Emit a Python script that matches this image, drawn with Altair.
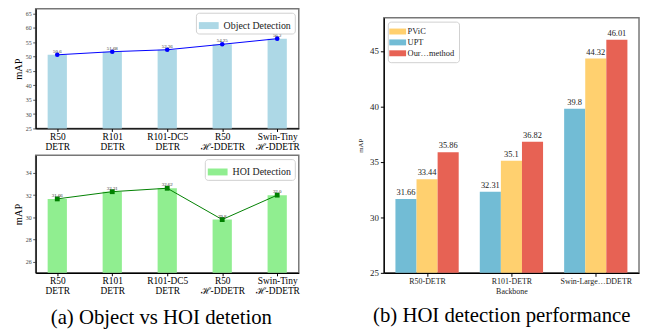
import json
import altair as alt
import pandas as pd

# ---------------- data ----------------
det_labels = [["R50", "DETR"], ["R101", "DETR"], ["R101-DC5", "DETR"],
              ["R50", "ℋ-DDETR"], ["Swin-Tiny", "ℋ-DDETR"]]
obj_values = [50.6, 51.68, 52.36, 54.25, 56.2]
hoi_values = [31.66, 32.31, 32.62, 29.8, 32.0]
obj_ticks = [25, 30, 35, 40, 45, 50, 55, 60, 65]
hoi_ticks = [26, 28, 30, 32, 34]

backbones = ["R50-DETR", "R101-DETR", "Swin-Large…DDETR"]
methods = ["UPT", "PViC", "Our…method"]
legend_order = ["PViC", "UPT", "Our…method"]
upt_values = [31.66, 32.31, 39.8]
pvic_values = [33.44, 35.1, 44.32]
our_values = [35.86, 36.82, 46.01]
perf_ticks = [25, 30, 35, 40, 45]

FONT = "Liberation Serif"
BAR_W = 0.35
RECT = "M-1,-0.35L1,-0.35L1,0.35L-1,0.35Z"
RECT_R = "M-1.42,-0.5L1.42,-0.5L1.42,0.5L-1.42,0.5Z"


def left_panel(values, name, bar_color, line_color, shape, msize, ydom, yticks, height):
    n = len(values)
    df = pd.DataFrame({"i": list(range(n)), "v": values, "s": [name] * n,
                       "lab": [str(v) for v in values]})
    margin = 0.05 * (n - 1 + BAR_W)
    xscale = alt.Scale(domain=[-BAR_W / 2 - margin, n - 1 + BAR_W / 2 + margin], nice=False, zero=False)
    yscale = alt.Scale(domain=ydom, nice=False, zero=False)
    label_js = json.dumps(det_labels, ensure_ascii=False)
    xaxis = alt.Axis(values=list(range(n)), labelExpr=f"{label_js}[datum.value]", title=None,
                     grid=False, labelFontSize=9.5, labelColor="black", labelLineHeight=10,
                     tickSize=3, labelPadding=0, domainColor="black", tickColor="black",
                     labelFlush=False, labelOverlap=False, labelFont=FONT)
    yaxis = alt.Axis(values=yticks, title="mAP", grid=False, labelFontSize=6, labelColor="#444",
                     tickSize=3, tickColor="#555", domainColor="black", titleFontSize=10.5,
                     titleFontWeight="normal", titlePadding=2, labelFont=FONT, titleFont=FONT,
                     labelOverlap=False, labelFlush=False, labelPadding=1.5, labelSeparation=0,
                     labelBound=False)
    X = alt.X("i:Q", scale=xscale, axis=xaxis)
    Y = alt.Y("v:Q", scale=yscale, axis=yaxis)
    base = alt.Chart(df)
    bars = base.transform_calculate(
        x0=f"datum.i-{BAR_W / 2}", x1=f"datum.i+{BAR_W / 2}"
    ).mark_bar().encode(
        x=alt.X("x0:Q", scale=xscale, axis=xaxis),
        x2="x1:Q",
        y=Y,
        y2=alt.datum(ydom[0]),
        color=alt.Color("s:N", scale=alt.Scale(domain=[name], range=[bar_color]),
                        legend=alt.Legend(title=None, orient="top-right", offset=4,
                                          labelFontSize=10, labelFont=FONT, labelColor="#222",
                                          symbolType=RECT, symbolSize=400, symbolStrokeWidth=0,
                                          symbolOpacity=1, labelOffset=5,
                                          padding=3, strokeColor="#d0d0d0", fillColor="white",
                                          cornerRadius=3)),
    )
    line = base.mark_line(color=line_color, strokeWidth=1).encode(x=X, y=Y)
    pts = base.mark_point(shape=shape, filled=True, size=msize, color=line_color,
                          opacity=1).encode(x=X, y=Y)
    txt = base.mark_text(fontSize=5, color="#333", dy=-1, baseline="bottom",
                         font=FONT).encode(x=X, y=Y, text="lab:N")
    return alt.layer(bars, line, pts, txt).properties(width=266, height=height)


top = left_panel(obj_values, "Object Detection", "#ADD8E6", "blue", "circle", 22,
                 [25, 66.6], obj_ticks, 121)
bottom = left_panel(hoi_values, "HOI Detection", "#90EE90", "green", "square", 24,
                    [25, 35.6], hoi_ticks, 119)

# ---------------- right panel ----------------
series = {"UPT": upt_values, "PViC": pvic_values, "Our…method": our_values}
rows = []
for gi, b in enumerate(backbones):
    for mi, m in enumerate(methods):
        rows.append({"g": gi, "b": b, "m": m, "mi": mi, "v": series[m][gi],
                     "lab": str(series[m][gi])})
rdf = pd.DataFrame(rows)
GW = 0.25
rmargin = 0.05 * (len(backbones) - 1 + 3 * GW)
rx = alt.Scale(domain=[-1.5 * GW - rmargin, len(backbones) - 1 + 1.5 * GW + rmargin],
               nice=False, zero=False)
ry = alt.Scale(domain=[25, 48], nice=False, zero=False)
bb_js = json.dumps(backbones, ensure_ascii=False)
rbase = alt.Chart(rdf).transform_calculate(
    xc=f"datum.g + (datum.mi - 1) * {GW}",
    x0=f"datum.g + (datum.mi - 1) * {GW} - {GW / 2}",
    x1=f"datum.g + (datum.mi - 1) * {GW} + {GW / 2}",
)
rbars = rbase.mark_bar().encode(
    x=alt.X("x0:Q", scale=rx,
            axis=alt.Axis(values=list(range(len(backbones))), labelExpr=f"{bb_js}[datum.value]",
                          title="Backbone", grid=False, labelFontSize=8, titleFontSize=8,
                          titleFontWeight="normal", titlePadding=2, tickSize=3.5, labelPadding=1,
                          domainColor="black", tickColor="black", labelColor="#222",
                          titleColor="#222", labelFlush=False, labelFont=FONT, titleFont=FONT)),
    x2="x1:Q",
    y=alt.Y("v:Q", scale=ry,
            axis=alt.Axis(values=perf_ticks, title="mAP", grid=False, labelFontSize=9,
                          titleFontSize=7, titleFontWeight="normal", tickSize=3.5, labelPadding=2,
                          titlePadding=6, domainColor="black", tickColor="black",
                          labelColor="#222", titleColor="#222", labelFont=FONT, titleFont=FONT,
                          labelOverlap=False, labelFlush=False)),
    y2=alt.datum(25),
    color=alt.Color("m:N", scale=alt.Scale(domain=legend_order,
                                           range=["#FFD06F", "#72BCD5", "#E76254"]),
                    legend=alt.Legend(title=None, orient="top-left", offset=4, labelFontSize=8.5,
                                      labelFont=FONT, labelColor="#222", symbolType=RECT_R,
                                      symbolSize=144, symbolStrokeWidth=0, symbolOpacity=1,
                                      labelOffset=4, rowPadding=0, padding=4,
                                      strokeColor="#d0d0d0", fillColor="white", cornerRadius=3)),
)
rtext = rbase.mark_text(fontSize=8.5, color="#222", dy=-2, baseline="bottom", font=FONT).encode(
    x=alt.X("xc:Q"), y=alt.Y("v:Q"), text="lab:N")
right_chart = alt.layer(rbars, rtext).properties(width=258, height=258)

spacer = alt.Chart(pd.DataFrame({"a": [0]})).mark_rect(opacity=0).encode(
    x=alt.value(0), x2=alt.value(1), y=alt.value(0), y2=alt.value(1)
).properties(width=258, height=4, view=alt.ViewBackground(stroke="transparent"))

cap_style = dict(orient="bottom", fontSize=21, font=FONT, fontWeight="normal", color="black",
                 anchor="middle")
left_group = alt.vconcat(top, bottom, spacing=2).resolve_scale(
    color="independent").resolve_legend(color="independent").properties(
    title=alt.TitleParams("(a) Object vs HOI detetion", offset=11, dx=5, **cap_style))
right_group = alt.vconcat(spacer, right_chart, spacing=3).resolve_scale(
    color="independent").resolve_legend(color="independent").properties(
    title=alt.TitleParams("(b) HOI detection performance", offset=9, dx=4, **cap_style))

chart = alt.hconcat(left_group, right_group, spacing=55).resolve_scale(
    color="independent").resolve_legend(color="independent").properties(
    padding={"left": 4, "top": -2, "right": 0, "bottom": 0}
).configure(font=FONT).configure_view(stroke="#777", strokeWidth=1.5).configure_axis(
    domainWidth=1.2, tickWidth=1, labelOverlap=False
)

chart.save("out.html", embed_options={"renderer": "svg", "actions": False})
